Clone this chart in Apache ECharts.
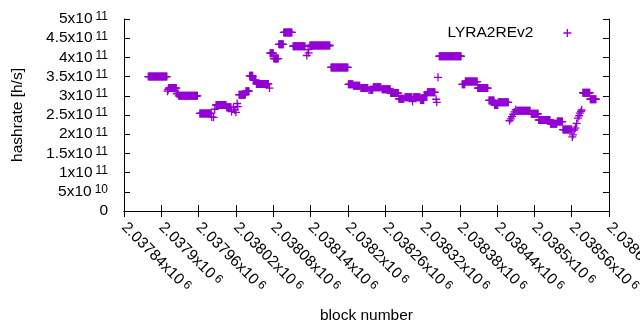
<!DOCTYPE html>
<html><head><meta charset="utf-8">
<script src="https://cdn.jsdelivr.net/npm/echarts@6/dist/echarts.min.js"></script>
<style>html,body{margin:0;padding:0;background:#fff}#c{width:640px;height:330px}</style>
</head><body><div id="c"></div>
<script>
const seriesName = 'LYRA2REv2';
const xTitle = 'block number';
const yTitle = 'hashrate [h/s]';
const xMin = 2037840, xMax = 2038620, xStep = 60;
const yMin = 0, yMax = 5e11, yStep = 5e10;

// flat stretches: first block, last block, hashrate
const runFirst = [2037879,2037912,2037925,2037928,2037962,2037988,2038005,2038025,2038036,2038042,2038048,2038053,2038075,2038081,2038089,2038097,2038112,2038139,2038173,2038201,2038209,2038221,2038236,2038241,2038255,2038269,2038282,2038292,2038306,2038317,2038323,2038328,2038347,2038384,2038389,2038409,2038427,2038436,2038442,2038472,2038495,2038507,2038526,2038537,2038546,2038578,2038590];
const runLast  = [2037909,2037924,2037927,2037958,2037980,2038004,2038012,2038035,2038041,2038047,2038052,2038072,2038080,2038088,2038096,2038110,2038131,2038171,2038200,2038208,2038219,2038232,2038240,2038253,2038268,2038281,2038290,2038303,2038316,2038322,2038327,2038340,2038382,2038388,2038408,2038425,2038435,2038441,2038458,2038493,2038506,2038525,2038536,2038545,2038560,2038589,2038599];
const runHash  = [350e9,320e9,306e9,300e9,254e9,276e9,270e9,303e9,312e9,352e9,341e9,331e9,411e9,397e9,434e9,465e9,429e9,431e9,374e9,330e9,326e9,320e9,316e9,322e9,317e9,307e9,292e9,296e9,296e9,289e9,302e9,309e9,403e9,330e9,337e9,320e9,288e9,276e9,283e9,261e9,253e9,237e9,227e9,233e9,212e9,308e9,291e9];

// isolated points
const loneBlock = [2037910,2037911,2037981,2037984,2037986,2038013,2038016,2038018,2038020,2038022,2038023,2038074,2038134,2038136,2038137,2038234,2038304,2038342,2038343,2038345,2038460,2038462,2038464,2038466,2038468,2038470,2038561,2038562,2038564,2038566,2038568,2038570,2038572,2038573,2038575,2038576];
const loneHash  = [312e9,316e9,245e9,244e9,265e9,259e9,270e9,263e9,257e9,280e9,272e9,320e9,405e9,420e9,412e9,315e9,285e9,291e9,283e9,348e9,235e9,240e9,246e9,252e9,258e9,264e9,193e9,198e9,211e9,216e9,228e9,242e9,248e9,255e9,259e9,263e9];

const points = [];
for (let i = 0; i < runFirst.length; i++) {
  for (let b = runFirst[i]; b <= runLast[i]; b++) points.push([b, runHash[i]]);
}
for (let i = 0; i < loneBlock.length; i++) points.push([loneBlock[i], loneHash[i]]);

const COLOR = '#9400d3';
const FONT = 'Liberation Sans';
const plus = 'path://M4,0L4,8M0,4L8,4';

function xFmt(v) {
  const m = parseFloat((v / 1e6).toFixed(5));
  return '{m|' + m + 'x10}{s|6}';
}
function yFmt(v) {
  if (v === 0) return '{m|0}';
  if (v < 1e11) return '{m|' + parseFloat((v / 1e10).toFixed(2)) + 'x10}{s|10}';
  return '{m|' + parseFloat((v / 1e11).toFixed(2)) + 'x10}{s|11}';
}
const rich = {
  m: { fontFamily: FONT, fontSize: 15.5, color: '#000', lineHeight: 16 },
  s: { fontFamily: FONT, fontSize: 12, color: '#000', lineHeight: 7, verticalAlign: 'top', padding: [0, 0, 0, 3] }
};
const axisLine = { show: true, lineStyle: { color: '#000', width: 1 } };
const axisTick = { show: true, inside: true, length: 6, lineStyle: { color: '#000' } };

const chart = echarts.init(document.getElementById('c'), null, { renderer: 'canvas' });
chart.setOption({
  animation: false,
  backgroundColor: '#fff',
  grid: { left: 124, right: 31, top: 19, bottom: 119, containLabel: false, outerBoundsMode: 'none' },
  legend: {
    show: true, right: 63, top: 20, align: 'right', itemWidth: 8, itemHeight: 8,
    icon: plus,
    itemStyle: { color: 'rgba(0,0,0,0)', borderColor: COLOR, borderWidth: 1.3 },
    textStyle: { fontFamily: FONT, fontSize: 15.5, color: '#000', padding: [0, 25, 0, 0] },
    data: [seriesName]
  },
  xAxis: [{
    type: 'value', min: xMin, max: xMax, interval: xStep, position: 'bottom',
    name: xTitle, nameLocation: 'middle', nameGap: 97,
    nameTextStyle: { fontFamily: FONT, fontSize: 15.5, color: '#000' },
    axisLine, axisTick, splitLine: { show: false },
    axisLabel: { rotate: -45, margin: 14, formatter: xFmt, rich, showMinLabel: true, showMaxLabel: true, hideOverlap: false }
  }, {
    type: 'value', min: xMin, max: xMax, interval: xStep, position: 'top',
    axisLine, axisTick, splitLine: { show: false }, axisLabel: { show: false }
  }],
  yAxis: [{
    type: 'value', min: yMin, max: yMax, interval: yStep, position: 'left',
    name: yTitle, nameLocation: 'middle', nameGap: 98,
    nameTextStyle: { fontFamily: FONT, fontSize: 15.5, color: '#000' },
    axisLine, axisTick, splitLine: { show: false },
    axisLabel: { margin: 16, formatter: yFmt, rich }
  }, {
    type: 'value', min: yMin, max: yMax, interval: yStep, position: 'right',
    axisLine, axisTick, splitLine: { show: false }, axisLabel: { show: false }
  }],
  series: [{
    name: seriesName, type: 'scatter', xAxisIndex: 0, yAxisIndex: 0,
    symbol: plus, symbolSize: 8,
    itemStyle: { color: 'rgba(0,0,0,0)', borderColor: COLOR, borderWidth: 1.3, opacity: 1 },
    emphasis: { disabled: true },
    data: points
  }]
});
</script></body></html>
